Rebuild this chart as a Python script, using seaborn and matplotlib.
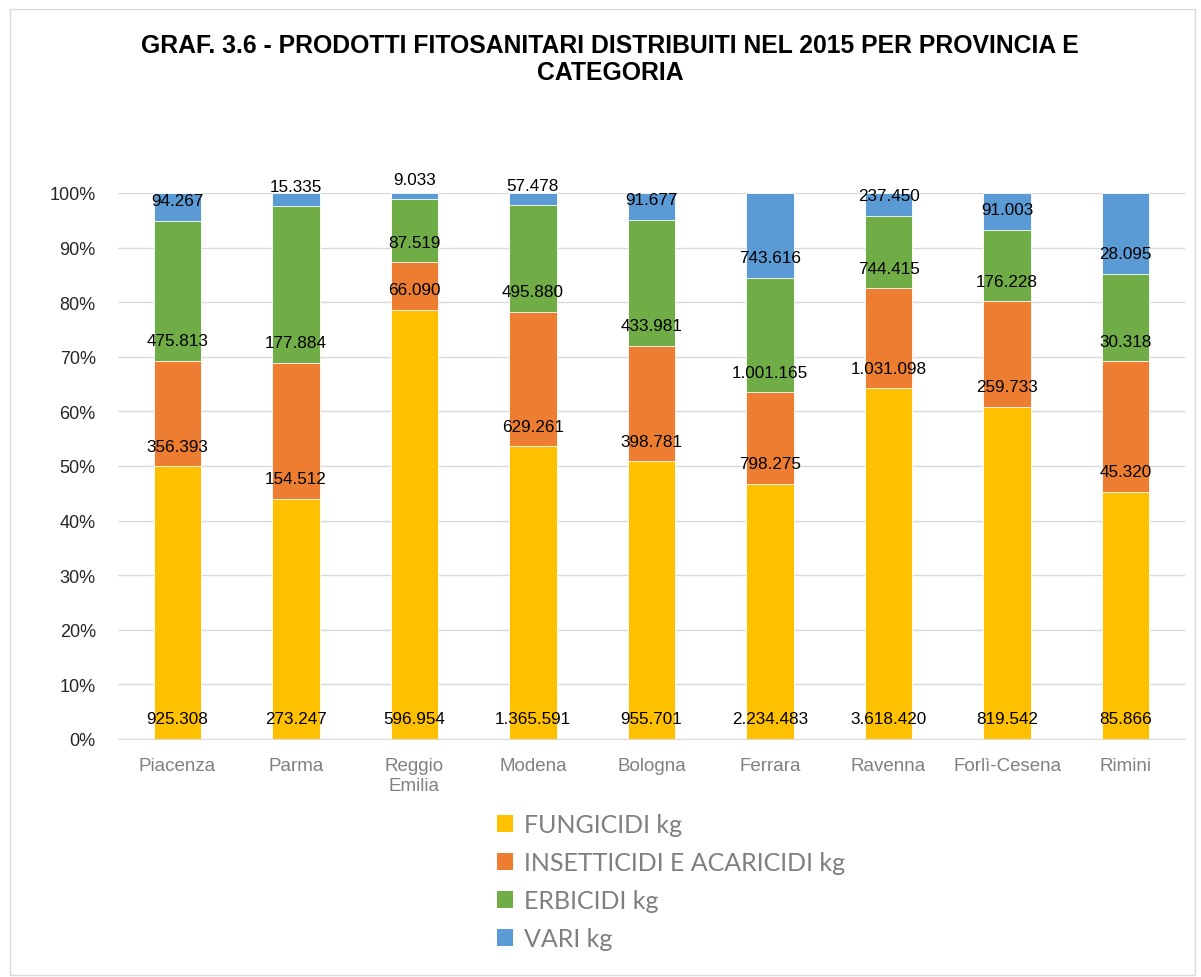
# Grafico 3.6 - prodotti fitosanitari per provincia e categoria (100% stacked)
import numpy as np
import pandas as pd
import matplotlib
matplotlib.use("Agg")
import matplotlib.pyplot as plt
import seaborn as sns
from matplotlib.patches import Patch, Rectangle
from matplotlib.ticker import PercentFormatter, FixedLocator

# ============================================
# DATA (kg)
# ============================================

province = ["Piacenza", "Parma", "Reggio\nEmilia", "Modena", "Bologna",
            "Ferrara", "Ravenna", "Forlì-Cesena", "Rimini"]
fungicidi = [925308, 273247, 596954, 1365591, 955701, 2234483, 3618420, 819542, 85866]
insetticidi = [356393, 154512, 66090, 629261, 398781, 798275, 1031098, 259733, 45320]
erbicidi = [475813, 177884, 87519, 495880, 433981, 1001165, 744415, 176228, 30318]
vari = [94267, 15335, 9033, 57478, 91677, 743616, 237450, 91003, 28095]

categorie = ["FUNGICIDI kg", "INSETTICIDI E ACARICIDI kg", "ERBICIDI kg", "VARI kg"]
colori = ["#FFC000", "#ED7D31", "#70AD47", "#5B9BD5"]

title = "GRAF. 3.6 - PRODOTTI FITOSANITARI DISTRIBUITI NEL 2015 PER PROVINCIA E\nCATEGORIA"

# ============================================
# PERCENTAGES
# ============================================

vals = np.array([fungicidi, insetticidi, erbicidi, vari], dtype=float)
pct = vals / vals.sum(axis=0) * 100
tops = np.cumsum(pct, axis=0)
bases = tops - pct

# ============================================
# PLOT
# ============================================

sns.set_style("white")
plt.rcParams['font.family'] = ['Liberation Sans', 'DejaVu Sans']

fig = plt.figure(figsize=(12.01, 9.78), dpi=100)
ax = fig.add_axes([118 / 1201, 1 - 740 / 978, (1185 - 118) / 1201, (740 - 194) / 978])

# draw from the top layer down so each bar covers the one below
for k in reversed(range(len(categorie))):
    df = pd.DataFrame({"provincia": province, "top": tops[k]})
    sns.barplot(data=df, x="provincia", y="top", color=colori[k],
                saturation=1, width=0.4, errorbar=None, ax=ax,
                edgecolor="white", linewidth=0.6, zorder=2)

# data labels at the base of each segment
for k in range(len(categorie)):
    for i in range(len(province)):
        lab = f"{int(vals[k, i]):,}".replace(",", ".")
        ax.annotate(lab, (i, bases[k, i]), xytext=(0, 14.5),
                    textcoords="offset points", ha="center", va="center",
                    fontsize=12.3, color="black", zorder=5)

ax.set_ylim(0, 100)
ax.set_xlim(-0.5, len(province) - 0.5)
ax.yaxis.set_major_locator(FixedLocator(np.arange(0, 101, 10)))
ax.yaxis.set_major_formatter(PercentFormatter(decimals=0))
ax.yaxis.grid(True, color="#D9D9D9", linewidth=1, zorder=0)
ax.set_axisbelow(True)
ax.set_xlabel("")
ax.set_ylabel("")

for s in ["top", "right", "left"]:
    ax.spines[s].set_visible(False)
ax.spines["bottom"].set_color("#D9D9D9")

ax.tick_params(axis="y", length=0, labelsize=13, labelcolor="#262626", pad=16)
ax.tick_params(axis="x", length=0, labelsize=13.5, labelcolor="#808080", pad=13)
ax.set_xticks(np.arange(-0.5, len(province), 1), minor=True)
ax.tick_params(axis="x", which="minor", length=6, color="#D9D9D9")

fig.text(0.508, 1 - 59.5 / 978, title, ha="center", va="center",
         fontsize=17.8, fontweight="bold", color="black", linespacing=1.2)

handles = [Patch(facecolor=c, edgecolor="none") for c in colori]
fig.legend(handles, categorie, loc="upper left",
           bbox_to_anchor=(474 / 1201, 1 - 792 / 978), frameon=False,
           labelcolor="#7F7F7F", handlelength=0.65,
           handleheight=0.65, handletextpad=0.45, labelspacing=0.6,
           prop={"family": ["Lato", "DejaVu Sans"], "size": 18})

fig.patches.append(Rectangle((10 / 1201, 0.002), 1185 / 1201, 1 - 12 / 978,
                             transform=fig.transFigure, fill=False,
                             edgecolor="#D9D9D9", linewidth=1))

plt.savefig("out.png", dpi=100)
